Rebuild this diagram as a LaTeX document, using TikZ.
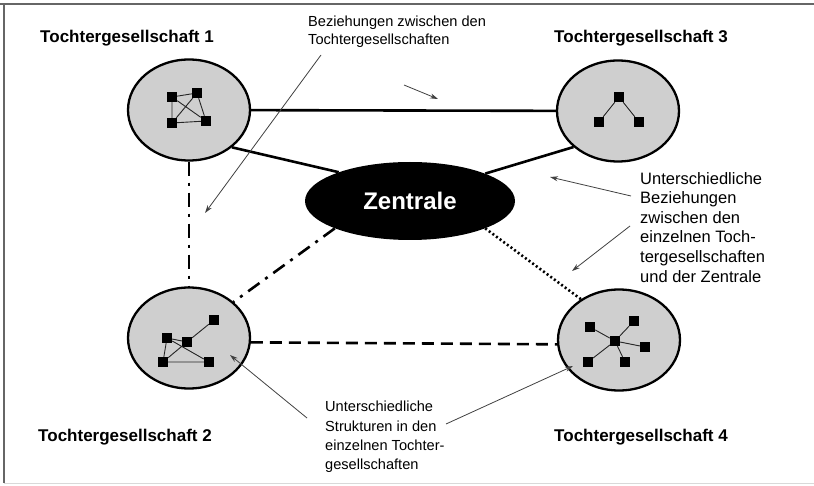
\documentclass[tikz,border=0pt]{standalone}
\usepackage{fontspec}
\setmainfont{Liberation Sans}
\usetikzlibrary{shapes.geometric,arrows.meta}
\begin{document}
\begin{tikzpicture}[x=1pt,y=-1pt,
  sub/.style={ellipse,draw=black,line width=2.3pt,fill=black!19,minimum width=122pt,minimum height=101pt,inner sep=0pt},
  sq/.style={rectangle,fill=black,minimum size=10pt,inner sep=0pt},
  inner/.style={line width=0.9pt,black!85},
  rel/.style={line width=2.6pt,black},
  title/.style={font=\bfseries\fontsize{17}{20}\selectfont,inner sep=0pt},
  note/.style={align=left,inner sep=0pt,anchor=north west},
  pointer/.style={line width=0.8pt,black!75,-{Stealth[length=8pt,width=5pt]}}
]
\useasboundingbox (0,0) rectangle (814,486);
% frame
\draw[black!60,line width=1.2pt] (0,4) -- (814,4);
\draw[black!60,line width=1.2pt] (4,4) -- (4,483);
\draw[black!15,line width=0.6pt] (4,483) -- (814,483);

% subsidiaries
\node[sub] (T1) at (189,110) {};
\node[sub] (T3) at (618,111) {};
\node[sub] (T2) at (189,338) {};
\node[sub] (T4) at (619,340) {};
\node[ellipse,fill=black,minimum width=210pt,minimum height=78pt,inner sep=0pt,text=white,font=\bfseries\fontsize{24}{28}\selectfont] (Z) at (410,201) {Zentrale};

% relations
\draw[rel] (T1) -- (T3);
\draw[rel] (T1.-41) -- (Z.158);
\draw[rel] (T3.219) -- (Z.20);
\draw[rel,dash pattern=on 14pt off 7pt on 3pt off 7pt] (T1.south) -- (T2.north);
\draw[rel,dash pattern=on 14pt off 7pt on 3pt off 7pt] (Z.200) -- (T2.39);
\draw[rel,dash pattern=on 2pt off 2.5pt] (Z.-20) -- (T4.133);
\draw[rel,dash pattern=on 12pt off 7pt] (T2.-4) -- (T4.184);

% T1 inner structure
\node[sq] (a1) at (172,97) {};
\node[sq] (a2) at (197,93) {};
\node[sq] (a3) at (172,123) {};
\node[sq] (a4) at (206,121) {};
\draw[inner] (a1) -- (a2) (a1) -- (a3) (a1) -- (a4) (a2) -- (a3) (a2) -- (a4) (a3) -- (a4);

% T3 inner structure
\node[sq] (b1) at (619,97) {};
\node[sq] (b2) at (599,122) {};
\node[sq] (b3) at (639,122) {};
\draw[inner] (b1) -- (b2) (b1) -- (b3);

% T2 inner structure
\node[sq] (c0) at (187,342) {};
\node[sq] (c1) at (214,320) {};
\node[sq] (c2) at (167,338) {};
\node[sq] (c3) at (163,362) {};
\node[sq] (c4) at (209,362) {};
\draw[inner] (c0) -- (c1) (c2) -- (c0) (c0) -- (c3) (c3) -- (c4) (c2) -- (c3) (c2) -- (c4);

% T4 inner structure
\node[sq] (d0) at (615,341) {};
\node[sq] (d1) at (590,327) {};
\node[sq] (d2) at (634,321) {};
\node[sq] (d3) at (645,347) {};
\node[sq] (d4) at (625,362) {};
\node[sq] (d5) at (588,362) {};
\draw[inner] (d0) -- (d1) (d0) -- (d2) (d0) -- (d3) (d0) -- (d4) (d0) -- (d5);

% titles
\node[title] (L1) at (127,38) {Tochtergesellschaft 1};
\node[title] (L3) at (641,38) {Tochtergesellschaft 3};
\node[title] (L2) at (125,437) {Tochtergesellschaft 2};
\node[title] (L4) at (641,437) {Tochtergesellschaft 4};

% notes
\node[note,font=\fontsize{14.6}{18}\selectfont] (N1) at (308,16) {Beziehungen zwischen den\\Tochtergesellschaften};
\node[note,font=\fontsize{16.5}{19.6}\selectfont] (N2) at (640,172) {Unterschiedliche\\Beziehungen\\zwischen den\\einzelnen Toch-\\tergesellschaften\\und der Zentrale};
\node[note,font=\fontsize{14.6}{19.4}\selectfont] (N3) at (325,401) {Unterschiedliche\\Strukturen in den\\einzelnen Tochter-\\gesellschaften};

% pointers
\coordinate (p1s) at (404,85);  \coordinate (p1e) at (438,99);
\coordinate (p2s) at (321,55);  \coordinate (p2e) at (205,213);
\coordinate (p3s) at (631,196); \coordinate (p3e) at (550,177);
\coordinate (p4s) at (630,226); \coordinate (p4e) at (572,271);
\coordinate (p5s) at (307,418); \coordinate (p5e) at (230,355);
\coordinate (p6s) at (446,424); \coordinate (p6e) at (573,366);
\draw[pointer] (p1s) -- (p1e);
\draw[pointer] (p2s) -- (p2e);
\draw[pointer] (p3s) -- (p3e);
\draw[pointer] (p4s) -- (p4e);
\draw[pointer] (p5s) -- (p5e);
\draw[pointer] (p6s) -- (p6e);
\end{tikzpicture}
\end{document}
